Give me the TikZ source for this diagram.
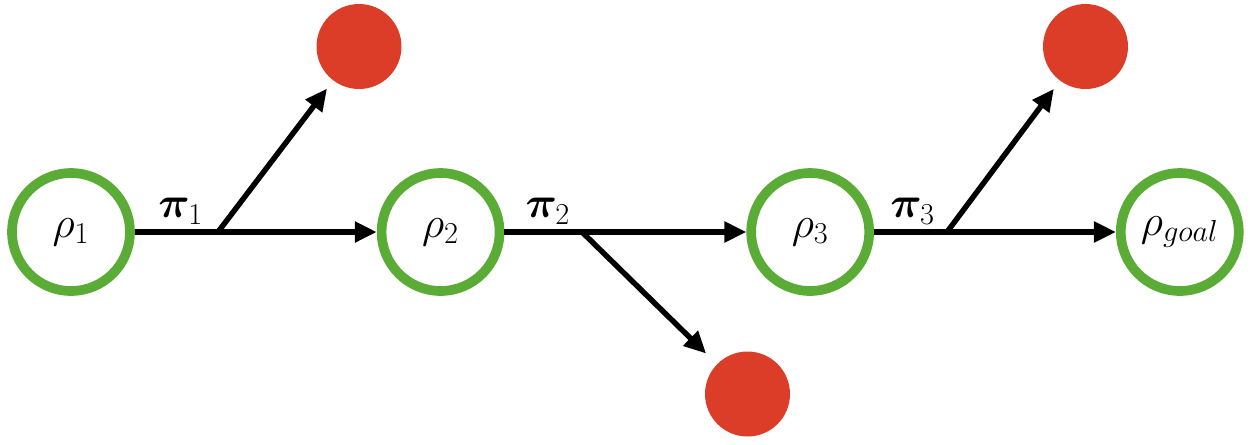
\documentclass[tikz,border=0pt]{standalone}
\usepackage{amsmath,bm}
\usetikzlibrary{arrows.meta, positioning}
\definecolor{stgreen}{RGB}{91,172,54}
\definecolor{failred}{RGB}{219,61,40}

\begin{document}
\begin{tikzpicture}[x=0.02cm, y=-0.02cm,
        st/.style={circle, draw=stgreen, line width=5.5pt, fill=white,
                   minimum size=2.36cm, inner sep=0pt, font=\fontsize{25}{30}\selectfont},
        fail/.style={circle, fill=failred, minimum size=1.7cm, inner sep=0pt},
        arr/.style={-{Triangle[length=0.44cm,width=0.4cm]}, line width=3.1pt},
        lbl/.style={font=\fontsize{25}{30}\selectfont, inner sep=3pt},
        node distance=4.84cm]
      \useasboundingbox (0,0) rectangle (1250,444);
      \node[st] (r1) at (71,232) {$\rho_1$};
      \node[st, right=of r1] (r2) {$\rho_2$};
      \node[st, right=of r2] (r3) {$\rho_3$};
      \node[st, right=of r3] (rg) {$\rho_{goal}$};
      \node[fail] (f1) at (359,46.5) {};
      \node[fail] (f2) at (747.5,394) {};
      \node[fail] (f3) at (1085.5,46.5) {};
      \coordinate (b1) at (218,232);
      \coordinate (b2) at (582,232);
      \coordinate (b3) at (947,232);
      \draw[arr] (r1) -- node[lbl, above, pos=0.19] {$\bm{\pi}_1$} (r2);
      \draw[arr] (r2) -- node[lbl, above, pos=0.18] {$\bm{\pi}_2$} (r3);
      \draw[arr] (r3) -- node[lbl, above, pos=0.16] {$\bm{\pi}_3$} (rg);
      \draw[arr, shorten >=0.2cm] (b1) -- (f1);
      \draw[arr, shorten >=0.3cm] (b2) -- (f2);
      \draw[arr, shorten >=0.2cm] (b3) -- (f3);
    \end{tikzpicture}
\end{document}
